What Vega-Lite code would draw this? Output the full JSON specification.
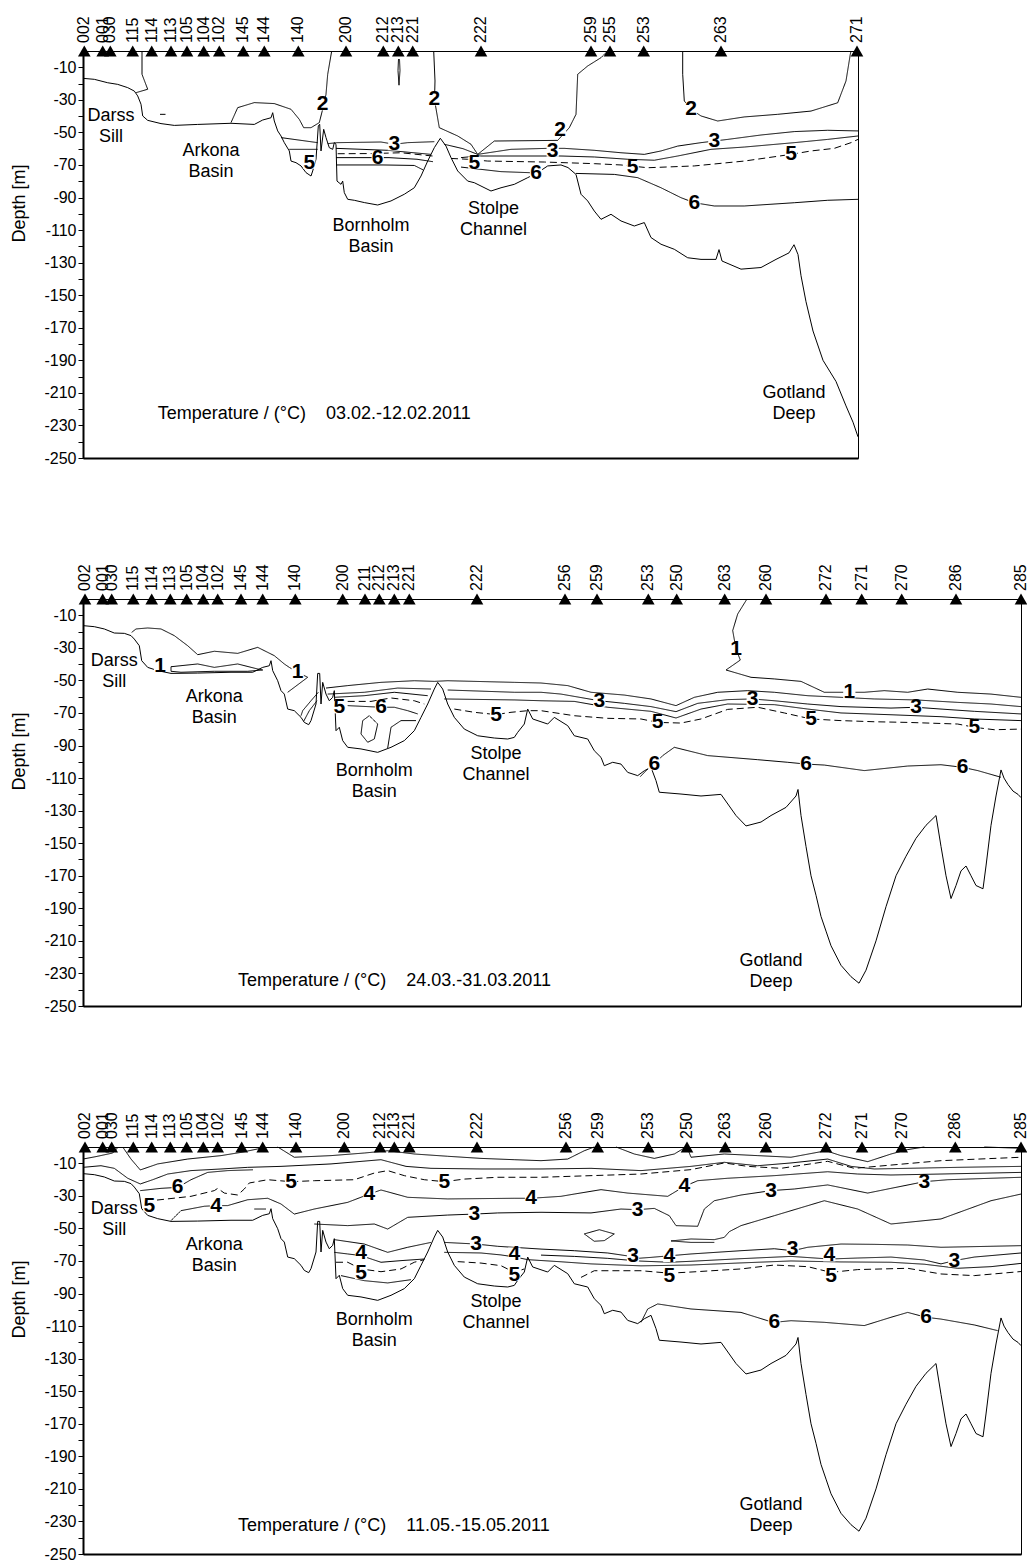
{
"$schema": "https://vega.github.io/schema/vega-lite/v6.json",
"background": "white",
"padding": {"left": 9, "top": 15, "right": 5, "bottom": 3},
"spacing": 141,
"bounds": "flush",
"config": {"font": "Liberation Sans", "view": {"stroke": "#000", "strokeWidth": 1}},
"datasets": {
"bathy": [
{"p":1,"x":0,"y":-16.8},{"p":1,"x":11.3,"y":-17.4},{"p":1,"x":24.7,"y":-19.5},{"p":1,"x":34.7,"y":-20.5},{"p":1,"x":44.7,"y":-22.5},{"p":1,"x":51.3,"y":-24.6},{"p":1,"x":54.7,"y":-27.6},{"p":1,"x":58,"y":-32.7},{"p":1,"x":59.7,"y":-39.9},{"p":1,"x":64.7,"y":-42.6},{"p":1,"x":78,"y":-44.6},{"p":1,"x":91.3,"y":-45.7},{"p":1,"x":114.7,"y":-45.1},{"p":1,"x":148,"y":-44.4},{"p":1,"x":171.3,"y":-45.1},{"p":1,"x":179.7,"y":-42.4},{"p":1,"x":188,"y":-41},{"p":1,"x":189.7,"y":-37.9},{"p":1,"x":191.3,"y":-43},{"p":1,"x":194.7,"y":-49.1},{"p":1,"x":198,"y":-52.2},{"p":1,"x":201.3,"y":-56.3},{"p":1,"x":206.3,"y":-61.4},{"p":1,"x":208,"y":-67.6},{"p":1,"x":213,"y":-68.6},{"p":1,"x":218,"y":-70.6},{"p":1,"x":223,"y":-74.7},{"p":1,"x":228,"y":-76.8},{"p":1,"x":229.7,"y":-73.7},{"p":1,"x":233,"y":-66.5},{"p":1,"x":235.3,"y":-46.1},{"p":1,"x":236.7,"y":-45},{"p":1,"x":238,"y":-61.4},{"p":1,"x":240.7,"y":-48.1},{"p":1,"x":243,"y":-53.2},{"p":1,"x":246.3,"y":-59.4},{"p":1,"x":249.7,"y":-60.4},{"p":1,"x":251.3,"y":-56.3},{"p":1,"x":253,"y":-57.3},{"p":1,"x":254,"y":-79.9},{"p":1,"x":258,"y":-81.9},{"p":1,"x":259.7,"y":-79.9},{"p":1,"x":261.3,"y":-87},{"p":1,"x":264.7,"y":-91.1},{"p":1,"x":271.3,"y":-91.7},{"p":1,"x":281.3,"y":-93.1},{"p":1,"x":294.7,"y":-94.6},{"p":1,"x":308,"y":-92.1},{"p":1,"x":321.3,"y":-88},{"p":1,"x":331.3,"y":-84},{"p":1,"x":338,"y":-76.8},{"p":1,"x":344.7,"y":-67.6},{"p":1,"x":351.3,"y":-59.4},{"p":1,"x":357.3,"y":-53.6},{"p":1,"x":363,"y":-58.4},{"p":1,"x":368,"y":-65.5},{"p":1,"x":374.7,"y":-73.7},{"p":1,"x":384.7,"y":-79.9},{"p":1,"x":391.3,"y":-80.9},{"p":1,"x":408,"y":-86},{"p":1,"x":418,"y":-84},{"p":1,"x":431.3,"y":-81.9},{"p":1,"x":444.7,"y":-77.8},{"p":1,"x":454.7,"y":-74.7},{"p":1,"x":464.7,"y":-70.6},{"p":1,"x":478,"y":-70},{"p":1,"x":485,"y":-71.6},{"p":1,"x":493,"y":-75.8},{"p":1,"x":498,"y":-88},{"p":1,"x":504.7,"y":-92.1},{"p":1,"x":511.3,"y":-98.3},{"p":1,"x":518,"y":-103.4},{"p":1,"x":528,"y":-100.3},{"p":1,"x":538,"y":-104.4},{"p":1,"x":551.3,"y":-107.5},{"p":1,"x":561.3,"y":-105.4},{"p":1,"x":568,"y":-114.6},{"p":1,"x":578,"y":-118.7},{"p":1,"x":591.3,"y":-121.8},{"p":1,"x":604.7,"y":-127},{"p":1,"x":618,"y":-128},{"p":1,"x":633,"y":-128},{"p":1,"x":636,"y":-122},{"p":1,"x":639,"y":-129},{"p":1,"x":658,"y":-134},{"p":1,"x":678,"y":-133},{"p":1,"x":693,"y":-128},{"p":1,"x":706,"y":-124},{"p":1,"x":711,"y":-119},{"p":1,"x":715,"y":-125},{"p":1,"x":718,"y":-138},{"p":1,"x":723,"y":-154},{"p":1,"x":730,"y":-172},{"p":1,"x":740,"y":-190},{"p":1,"x":753,"y":-203},{"p":1,"x":763,"y":-218},{"p":1,"x":770,"y":-228},{"p":1,"x":775,"y":-237},
{"p":2,"x":0.7,"y":-16.4},{"p":2,"x":11.3,"y":-17},{"p":2,"x":21.3,"y":-18.4},{"p":2,"x":31.3,"y":-20.9},{"p":2,"x":41.3,"y":-21.1},{"p":2,"x":48,"y":-22.5},{"p":2,"x":51.3,"y":-24.6},{"p":2,"x":56.3,"y":-28.7},{"p":2,"x":58.7,"y":-37.9},{"p":2,"x":64.7,"y":-42},{"p":2,"x":74.7,"y":-44},{"p":2,"x":88,"y":-45.7},{"p":2,"x":114.7,"y":-45.5},{"p":2,"x":148,"y":-45},{"p":2,"x":169.7,"y":-45},{"p":2,"x":179.7,"y":-42},{"p":2,"x":186.3,"y":-41},{"p":2,"x":188,"y":-37.9},{"p":2,"x":189.7,"y":-44},{"p":2,"x":194.7,"y":-50.2},{"p":2,"x":198,"y":-56.3},{"p":2,"x":201.3,"y":-58.4},{"p":2,"x":204.7,"y":-67.6},{"p":2,"x":211.3,"y":-68.6},{"p":2,"x":218,"y":-72.7},{"p":2,"x":221.3,"y":-75.8},{"p":2,"x":225.7,"y":-77.2},{"p":2,"x":228,"y":-74.7},{"p":2,"x":233,"y":-64.5},{"p":2,"x":234.7,"y":-45.7},{"p":2,"x":236.7,"y":-45.7},{"p":2,"x":238,"y":-64.5},{"p":2,"x":239.7,"y":-51.2},{"p":2,"x":243,"y":-58.4},{"p":2,"x":246.3,"y":-62.5},{"p":2,"x":249.7,"y":-60.4},{"p":2,"x":251.3,"y":-56.3},{"p":2,"x":253,"y":-80.9},{"p":2,"x":256.3,"y":-78.8},{"p":2,"x":259.7,"y":-87},{"p":2,"x":264.7,"y":-91.1},{"p":2,"x":278,"y":-92.1},{"p":2,"x":294.7,"y":-94.2},{"p":2,"x":308,"y":-91.1},{"p":2,"x":321.3,"y":-87},{"p":2,"x":331.3,"y":-80.9},{"p":2,"x":338,"y":-72.7},{"p":2,"x":344.7,"y":-64.5},{"p":2,"x":351.3,"y":-55.3},{"p":2,"x":354.7,"y":-51.2},{"p":2,"x":359.7,"y":-55.3},{"p":2,"x":364.7,"y":-64.5},{"p":2,"x":371.3,"y":-72.7},{"p":2,"x":381.3,"y":-79.9},{"p":2,"x":394.7,"y":-84},{"p":2,"x":411.3,"y":-85.4},{"p":2,"x":424.7,"y":-86},{"p":2,"x":431.3,"y":-85},{"p":2,"x":434.7,"y":-81.9},{"p":2,"x":441.3,"y":-76.8},{"p":2,"x":444.7,"y":-67.6},{"p":2,"x":449.7,"y":-73.7},{"p":2,"x":464.7,"y":-76.8},{"p":2,"x":471.3,"y":-72.7},{"p":2,"x":484.7,"y":-77.8},{"p":2,"x":491.3,"y":-84},{"p":2,"x":504.7,"y":-86},{"p":2,"x":511.3,"y":-93.2},{"p":2,"x":518,"y":-97.3},{"p":2,"x":521.3,"y":-102.4},{"p":2,"x":529.7,"y":-100.3},{"p":2,"x":538,"y":-101.4},{"p":2,"x":544.7,"y":-106.5},{"p":2,"x":554.7,"y":-108.5},{"p":2,"x":561.3,"y":-105.5},{"p":2,"x":568,"y":-103.4},{"p":2,"x":573,"y":-111.6},{"p":2,"x":576.3,"y":-118.7},{"p":2,"x":598,"y":-119.8},{"p":2,"x":618,"y":-121},{"p":2,"x":638,"y":-120},{"p":2,"x":653,"y":-133},{"p":2,"x":663,"y":-139.4},{"p":2,"x":678,"y":-137},{"p":2,"x":688,"y":-133},{"p":2,"x":703,"y":-128},{"p":2,"x":713,"y":-121},{"p":2,"x":715,"y":-117},{"p":2,"x":718,"y":-133},{"p":2,"x":723,"y":-152},{"p":2,"x":728,"y":-170},{"p":2,"x":733,"y":-182},{"p":2,"x":738,"y":-195},{"p":2,"x":743,"y":-204},{"p":2,"x":748,"y":-213},{"p":2,"x":758,"y":-225},{"p":2,"x":768,"y":-232},{"p":2,"x":776,"y":-236},{"p":2,"x":783,"y":-228},{"p":2,"x":793,"y":-210},{"p":2,"x":803,"y":-189},{"p":2,"x":813,"y":-170},{"p":2,"x":823,"y":-158},{"p":2,"x":833,"y":-147},{"p":2,"x":843,"y":-139},{"p":2,"x":853,"y":-133},{"p":2,"x":858,"y":-152},{"p":2,"x":863,"y":-170},{"p":2,"x":868,"y":-184},{"p":2,"x":873,"y":-176},{"p":2,"x":878,"y":-167},{"p":2,"x":883,"y":-164},{"p":2,"x":888,"y":-170},{"p":2,"x":893,"y":-176},{"p":2,"x":900,"y":-178},{"p":2,"x":903,"y":-164},{"p":2,"x":908,"y":-139},{"p":2,"x":913,"y":-121},{"p":2,"x":918,"y":-105},{"p":2,"x":921,"y":-110},{"p":2,"x":925,"y":-114},{"p":2,"x":930,"y":-118},{"p":2,"x":935,"y":-120},{"p":2,"x":938,"y":-122}
],
"iso": [
{"p":1,"c":"a","t":2,"x":59,"y":0},{"p":1,"c":"a","t":2,"x":59,"y":-14.3},{"p":1,"c":"a","t":2,"x":64.7,"y":-23.5},{"p":1,"c":"a","t":2,"x":53,"y":-25.6},
{"p":1,"c":"b","t":2,"x":248.7,"y":0},{"p":1,"c":"b","t":2,"x":244.7,"y":-14.3},{"p":1,"c":"b","t":2,"x":243,"y":-26.6},{"p":1,"c":"b","t":2,"x":240,"y":-35},{"p":1,"c":"b","t":2,"x":236.3,"y":-44},{"p":1,"c":"b","t":2,"x":228,"y":-47.1},{"p":1,"c":"b","t":2,"x":220.7,"y":-47.1},{"p":1,"c":"b","t":2,"x":216.3,"y":-42},{"p":1,"c":"b","t":2,"x":208,"y":-35.8},{"p":1,"c":"b","t":2,"x":191.3,"y":-32.3},{"p":1,"c":"b","t":2,"x":171.3,"y":-31.7},{"p":1,"c":"b","t":2,"x":154.7,"y":-34.8},{"p":1,"c":"b","t":2,"x":148,"y":-44},
{"p":1,"c":"c","t":2,"x":315.5,"y":-5},{"p":1,"c":"c","t":2,"x":315,"y":-12},{"p":1,"c":"c","t":2,"x":316,"y":-21},{"p":1,"c":"c","t":2,"x":317,"y":-12},{"p":1,"c":"c","t":2,"x":316.5,"y":-5},
{"p":1,"c":"d","t":2,"x":350.7,"y":0},{"p":1,"c":"d","t":2,"x":352,"y":-18.4},{"p":1,"c":"d","t":2,"x":351.5,"y":-30},{"p":1,"c":"d","t":2,"x":356.3,"y":-47.1},{"p":1,"c":"d","t":2,"x":374.7,"y":-52.2},{"p":1,"c":"d","t":2,"x":388,"y":-57.3},{"p":1,"c":"d","t":2,"x":394.7,"y":-63.5},{"p":1,"c":"d","t":2,"x":411.3,"y":-55.3},{"p":1,"c":"d","t":2,"x":474.7,"y":-54.9},{"p":1,"c":"d","t":2,"x":486.3,"y":-47.1},{"p":1,"c":"d","t":2,"x":493,"y":-38.9},{"p":1,"c":"d","t":2,"x":494.7,"y":-14.3},{"p":1,"c":"d","t":2,"x":504.7,"y":-9.2},{"p":1,"c":"d","t":2,"x":518,"y":-4.1},{"p":1,"c":"d","t":2,"x":524.7,"y":0},
{"p":1,"c":"e","t":2,"x":599.7,"y":0},{"p":1,"c":"e","t":2,"x":599.7,"y":-14.3},{"p":1,"c":"e","t":2,"x":601.3,"y":-30.7},{"p":1,"c":"e","t":2,"x":608,"y":-35.8},{"p":1,"c":"e","t":2,"x":618,"y":-39.9},{"p":1,"c":"e","t":2,"x":634.7,"y":-43},{"p":1,"c":"e","t":2,"x":661.3,"y":-40.5},{"p":1,"c":"e","t":2,"x":694.7,"y":-38.9},{"p":1,"c":"e","t":2,"x":728,"y":-36.9},{"p":1,"c":"e","t":2,"x":754.7,"y":-31.8},{"p":1,"c":"e","t":2,"x":763,"y":-18.4},{"p":1,"c":"e","t":2,"x":767.3,"y":-2},{"p":1,"c":"e","t":2,"x":768,"y":0},
{"p":1,"c":"f","t":1,"x":77,"y":-38.9},{"p":1,"c":"f","t":1,"x":82.5,"y":-38.9},
{"p":1,"c":"g","t":3,"x":198,"y":-53.2},{"p":1,"c":"g","t":3,"x":234.7,"y":-56.3},
{"p":1,"c":"r","t":4,"x":206.3,"y":-60.4},{"p":1,"c":"r","t":4,"x":234.7,"y":-60.4},
{"p":1,"c":"h","t":3,"x":244.7,"y":-56.9},{"p":1,"c":"h","t":3,"x":254.7,"y":-56.3},{"p":1,"c":"h","t":3,"x":298,"y":-55.9},{"p":1,"c":"h","t":3,"x":311.3,"y":-57.3},{"p":1,"c":"h","t":3,"x":324.7,"y":-56.3},{"p":1,"c":"h","t":3,"x":351.3,"y":-55.7},
{"p":1,"c":"i","t":3,"x":361.3,"y":-57.3},{"p":1,"c":"i","t":3,"x":380,"y":-60},{"p":1,"c":"i","t":3,"x":394.7,"y":-63.5},{"p":1,"c":"i","t":3,"x":428,"y":-60.4},{"p":1,"c":"i","t":3,"x":464.7,"y":-59.8},{"p":1,"c":"i","t":3,"x":481.3,"y":-59.8},{"p":1,"c":"i","t":3,"x":511.3,"y":-61},{"p":1,"c":"i","t":3,"x":538,"y":-62.5},{"p":1,"c":"i","t":3,"x":561.3,"y":-63.5},{"p":1,"c":"i","t":3,"x":578,"y":-61.4},{"p":1,"c":"i","t":3,"x":594.7,"y":-58.4},{"p":1,"c":"i","t":3,"x":618,"y":-56.3},{"p":1,"c":"i","t":3,"x":644.7,"y":-54.3},{"p":1,"c":"i","t":3,"x":678,"y":-51.6},{"p":1,"c":"i","t":3,"x":711.3,"y":-49.5},{"p":1,"c":"i","t":3,"x":744.7,"y":-48.7},{"p":1,"c":"i","t":3,"x":775,"y":-49.1},
{"p":1,"c":"j","t":4,"x":253,"y":-59.8},{"p":1,"c":"j","t":4,"x":304.7,"y":-61},{"p":1,"c":"j","t":4,"x":348,"y":-63.5},
{"p":1,"c":"k","t":4,"x":378,"y":-65.5},{"p":1,"c":"k","t":4,"x":394.7,"y":-64.5},{"p":1,"c":"k","t":4,"x":478,"y":-64.5},{"p":1,"c":"k","t":4,"x":511.3,"y":-65.1},{"p":1,"c":"k","t":4,"x":544.7,"y":-66.5},{"p":1,"c":"k","t":4,"x":571.3,"y":-67.1},{"p":1,"c":"k","t":4,"x":594.7,"y":-64.5},{"p":1,"c":"k","t":4,"x":628,"y":-60.4},{"p":1,"c":"k","t":4,"x":661.3,"y":-59},{"p":1,"c":"k","t":4,"x":711.3,"y":-56.3},{"p":1,"c":"k","t":4,"x":744.7,"y":-54.3},{"p":1,"c":"k","t":4,"x":775,"y":-52.2},
{"p":1,"c":"l","t":5,"x":254.7,"y":-63.1},{"p":1,"c":"l","t":5,"x":288,"y":-63},{"p":1,"c":"l","t":5,"x":318,"y":-62.5},{"p":1,"c":"l","t":5,"x":349.7,"y":-64.5},
{"p":1,"c":"m","t":5,"x":368,"y":-66},{"p":1,"c":"m","t":5,"x":384.7,"y":-66.5},{"p":1,"c":"m","t":5,"x":404.7,"y":-67.6},{"p":1,"c":"m","t":5,"x":461.3,"y":-68.2},{"p":1,"c":"m","t":5,"x":511.3,"y":-69.2},{"p":1,"c":"m","t":5,"x":538,"y":-70},{"p":1,"c":"m","t":5,"x":564.7,"y":-71.7},{"p":1,"c":"m","t":5,"x":611.3,"y":-70.6},{"p":1,"c":"m","t":5,"x":661.3,"y":-67.6},{"p":1,"c":"m","t":5,"x":708,"y":-63.5},{"p":1,"c":"m","t":5,"x":728,"y":-61.4},{"p":1,"c":"m","t":5,"x":751.3,"y":-59.8},{"p":1,"c":"m","t":5,"x":768,"y":-56.3},{"p":1,"c":"m","t":5,"x":775,"y":-54.3},
{"p":1,"c":"n","t":6,"x":253,"y":-65.5},{"p":1,"c":"n","t":6,"x":285,"y":-65.5},{"p":1,"c":"n","t":6,"x":306,"y":-65.5},{"p":1,"c":"n","t":6,"x":334,"y":-66.5},{"p":1,"c":"n","t":6,"x":350,"y":-68},
{"p":1,"c":"o","t":6,"x":253,"y":-70},{"p":1,"c":"o","t":6,"x":300,"y":-70},{"p":1,"c":"o","t":6,"x":331.3,"y":-70.3},{"p":1,"c":"o","t":6,"x":340,"y":-73},
{"p":1,"c":"p","t":6,"x":378,"y":-71.3},{"p":1,"c":"p","t":6,"x":398,"y":-72.7},{"p":1,"c":"p","t":6,"x":418,"y":-74.1},{"p":1,"c":"p","t":6,"x":444.7,"y":-74.7},{"p":1,"c":"p","t":6,"x":455,"y":-75},
{"p":1,"c":"q","t":6,"x":493,"y":-75.2},{"p":1,"c":"q","t":6,"x":531.3,"y":-75.8},{"p":1,"c":"q","t":6,"x":554.7,"y":-77.8},{"p":1,"c":"q","t":6,"x":578,"y":-84},{"p":1,"c":"q","t":6,"x":598,"y":-90.1},{"p":1,"c":"q","t":6,"x":611.3,"y":-93.2},{"p":1,"c":"q","t":6,"x":631.3,"y":-95.2},{"p":1,"c":"q","t":6,"x":661.3,"y":-95.2},{"p":1,"c":"q","t":6,"x":711.3,"y":-93.2},{"p":1,"c":"q","t":6,"x":744.7,"y":-91.7},{"p":1,"c":"q","t":6,"x":775,"y":-91.1},

{"p":2,"c":"a","t":1,"x":48.7,"y":-20.5},{"p":2,"c":"a","t":1,"x":53,"y":-18.4},{"p":2,"c":"a","t":1,"x":64.7,"y":-17.8},{"p":2,"c":"a","t":1,"x":78,"y":-18.4},{"p":2,"c":"a","t":1,"x":91.3,"y":-22.5},{"p":2,"c":"a","t":1,"x":104.7,"y":-28.7},{"p":2,"c":"a","t":1,"x":114.7,"y":-34.2},{"p":2,"c":"a","t":1,"x":131.3,"y":-32.1},{"p":2,"c":"a","t":1,"x":154.7,"y":-33.4},{"p":2,"c":"a","t":1,"x":174.7,"y":-29.7},{"p":2,"c":"a","t":1,"x":191.3,"y":-34.8},{"p":2,"c":"a","t":1,"x":201.3,"y":-39.9},{"p":2,"c":"a","t":1,"x":206.3,"y":-42},{"p":2,"c":"a","t":1,"x":214.7,"y":-45},{"p":2,"c":"a","t":1,"x":224.7,"y":-48.1},{"p":2,"c":"a","t":1,"x":204.7,"y":-57.3},
{"p":2,"c":"b","t":1,"x":88,"y":-41.6},{"p":2,"c":"b","t":1,"x":114.7,"y":-39.9},{"p":2,"c":"b","t":1,"x":131.3,"y":-42},{"p":2,"c":"b","t":1,"x":154.7,"y":-39.9},{"p":2,"c":"b","t":1,"x":174.7,"y":-43},{"p":2,"c":"b","t":1,"x":179.7,"y":-43.6},{"p":2,"c":"b","t":1,"x":164.7,"y":-44.4},{"p":2,"c":"b","t":1,"x":131.3,"y":-44.4},{"p":2,"c":"b","t":1,"x":98,"y":-45},{"p":2,"c":"b","t":1,"x":88,"y":-44.4},{"p":2,"c":"b","t":1,"x":88,"y":-41.6},
{"p":2,"c":"c","t":2,"x":235.3,"y":-57.3},{"p":2,"c":"c","t":2,"x":228,"y":-62.5},{"p":2,"c":"c","t":2,"x":219.7,"y":-68.6},{"p":2,"c":"c","t":2,"x":218,"y":-71.7},
{"p":2,"c":"d","t":2,"x":234,"y":-62.5},{"p":2,"c":"d","t":2,"x":226.3,"y":-68.6},{"p":2,"c":"d","t":2,"x":220.7,"y":-75.1},
{"p":2,"c":"e","t":2,"x":243,"y":-54.7},{"p":2,"c":"e","t":2,"x":264.7,"y":-53.2},{"p":2,"c":"e","t":2,"x":298,"y":-51.2},{"p":2,"c":"e","t":2,"x":331.3,"y":-50.2},{"p":2,"c":"e","t":2,"x":351.3,"y":-50.6},{"p":2,"c":"e","t":2,"x":364.7,"y":-50.2},{"p":2,"c":"e","t":2,"x":431.3,"y":-51.2},{"p":2,"c":"e","t":2,"x":458,"y":-51.6},{"p":2,"c":"e","t":2,"x":484.7,"y":-53.2},{"p":2,"c":"e","t":2,"x":508,"y":-57.3},{"p":2,"c":"e","t":2,"x":541.3,"y":-59},{"p":2,"c":"e","t":2,"x":568,"y":-61.4},{"p":2,"c":"e","t":2,"x":593,"y":-65.5},{"p":2,"c":"e","t":2,"x":611.3,"y":-60.4},{"p":2,"c":"e","t":2,"x":634.7,"y":-57.3},{"p":2,"c":"e","t":2,"x":664.7,"y":-56.3},{"p":2,"c":"e","t":2,"x":691.3,"y":-57.3},{"p":2,"c":"e","t":2,"x":724.7,"y":-59.4},{"p":2,"c":"e","t":2,"x":758,"y":-60.4},{"p":2,"c":"e","t":2,"x":791.3,"y":-61.4},{"p":2,"c":"e","t":2,"x":833,"y":-62},{"p":2,"c":"e","t":2,"x":874.7,"y":-63.5},{"p":2,"c":"e","t":2,"x":908,"y":-64.5},{"p":2,"c":"e","t":2,"x":938,"y":-66.1},
{"p":2,"c":"f","t":3,"x":244.7,"y":-58.4},{"p":2,"c":"f","t":3,"x":281.3,"y":-57.3},{"p":2,"c":"f","t":3,"x":314.7,"y":-54.7},{"p":2,"c":"f","t":3,"x":348,"y":-55.3},
{"p":2,"c":"g","t":3,"x":364.7,"y":-55.9},{"p":2,"c":"g","t":3,"x":431.3,"y":-57.3},{"p":2,"c":"g","t":3,"x":458,"y":-57.3},{"p":2,"c":"g","t":3,"x":478,"y":-58.4},{"p":2,"c":"g","t":3,"x":516.3,"y":-62.5},{"p":2,"c":"g","t":3,"x":541.3,"y":-64.1},{"p":2,"c":"g","t":3,"x":568,"y":-66.1},{"p":2,"c":"g","t":3,"x":593,"y":-69.2},{"p":2,"c":"g","t":3,"x":614.7,"y":-64.1},{"p":2,"c":"g","t":3,"x":644.7,"y":-61.8},{"p":2,"c":"g","t":3,"x":669.7,"y":-61.4},{"p":2,"c":"g","t":3,"x":691.3,"y":-62.5},{"p":2,"c":"g","t":3,"x":724.7,"y":-64.5},{"p":2,"c":"g","t":3,"x":758,"y":-66.1},{"p":2,"c":"g","t":3,"x":808,"y":-67},{"p":2,"c":"g","t":3,"x":833,"y":-66.5},{"p":2,"c":"g","t":3,"x":858,"y":-67.6},{"p":2,"c":"g","t":3,"x":891.3,"y":-69},{"p":2,"c":"g","t":3,"x":938,"y":-70.6},
{"p":2,"c":"h","t":4,"x":251.3,"y":-60.4},{"p":2,"c":"h","t":4,"x":281.3,"y":-59.4},{"p":2,"c":"h","t":4,"x":311.3,"y":-57.3},{"p":2,"c":"h","t":4,"x":344.7,"y":-59.4},
{"p":2,"c":"i","t":4,"x":361.3,"y":-61.4},{"p":2,"c":"i","t":4,"x":431.3,"y":-62},{"p":2,"c":"i","t":4,"x":458,"y":-62.5},{"p":2,"c":"i","t":4,"x":491.3,"y":-62.9},{"p":2,"c":"i","t":4,"x":524.7,"y":-66.5},{"p":2,"c":"i","t":4,"x":568,"y":-69},{"p":2,"c":"i","t":4,"x":593,"y":-73.1},{"p":2,"c":"i","t":4,"x":618,"y":-67.6},{"p":2,"c":"i","t":4,"x":644.7,"y":-64.5},{"p":2,"c":"i","t":4,"x":691.3,"y":-64.9},{"p":2,"c":"i","t":4,"x":724.7,"y":-67.6},{"p":2,"c":"i","t":4,"x":758,"y":-70},{"p":2,"c":"i","t":4,"x":808,"y":-71.1},{"p":2,"c":"i","t":4,"x":858,"y":-72.3},{"p":2,"c":"i","t":4,"x":891.3,"y":-73.7},{"p":2,"c":"i","t":4,"x":938,"y":-74.7},
{"p":2,"c":"j","t":5,"x":264.7,"y":-62.9},{"p":2,"c":"j","t":5,"x":288,"y":-62.9},{"p":2,"c":"j","t":5,"x":308,"y":-60.8},{"p":2,"c":"j","t":5,"x":331.3,"y":-62.5},{"p":2,"c":"j","t":5,"x":341.3,"y":-64.5},
{"p":2,"c":"k","t":5,"x":371.3,"y":-67.6},{"p":2,"c":"k","t":5,"x":391.3,"y":-69.6},{"p":2,"c":"k","t":5,"x":413,"y":-71},{"p":2,"c":"k","t":5,"x":428,"y":-69.6},{"p":2,"c":"k","t":5,"x":444.7,"y":-68.6},{"p":2,"c":"k","t":5,"x":458,"y":-68.6},{"p":2,"c":"k","t":5,"x":491.3,"y":-71.7},{"p":2,"c":"k","t":5,"x":524.7,"y":-73.3},{"p":2,"c":"k","t":5,"x":558,"y":-73.7},{"p":2,"c":"k","t":5,"x":574.7,"y":-75.8},{"p":2,"c":"k","t":5,"x":598,"y":-76.2},{"p":2,"c":"k","t":5,"x":618,"y":-73.7},{"p":2,"c":"k","t":5,"x":644.7,"y":-67.8},{"p":2,"c":"k","t":5,"x":674.7,"y":-66.5},{"p":2,"c":"k","t":5,"x":701.3,"y":-70},{"p":2,"c":"k","t":5,"x":728,"y":-73.7},{"p":2,"c":"k","t":5,"x":758,"y":-74.7},{"p":2,"c":"k","t":5,"x":791.3,"y":-75.4},{"p":2,"c":"k","t":5,"x":824.7,"y":-75.8},{"p":2,"c":"k","t":5,"x":874.7,"y":-76.8},{"p":2,"c":"k","t":5,"x":891.3,"y":-78.8},{"p":2,"c":"k","t":5,"x":911.3,"y":-80.3},{"p":2,"c":"k","t":5,"x":938,"y":-79.9},
{"p":2,"c":"l","t":6,"x":264.7,"y":-65.5},{"p":2,"c":"l","t":6,"x":284.7,"y":-66.1},{"p":2,"c":"l","t":6,"x":298,"y":-66.5},{"p":2,"c":"l","t":6,"x":311.3,"y":-66.5},{"p":2,"c":"l","t":6,"x":324.7,"y":-68.6},{"p":2,"c":"l","t":6,"x":334.7,"y":-70.6},
{"p":2,"c":"m","t":6,"x":286.3,"y":-71.7},{"p":2,"c":"m","t":6,"x":294.7,"y":-76.8},{"p":2,"c":"m","t":6,"x":291.3,"y":-86},{"p":2,"c":"m","t":6,"x":284.7,"y":-88},{"p":2,"c":"m","t":6,"x":278,"y":-82.9},{"p":2,"c":"m","t":6,"x":279.7,"y":-74.7},{"p":2,"c":"m","t":6,"x":286.3,"y":-71.7},
{"p":2,"c":"n","t":6,"x":304.7,"y":-91.5},{"p":2,"c":"n","t":6,"x":308,"y":-78.8},{"p":2,"c":"n","t":6,"x":318,"y":-74.7},{"p":2,"c":"n","t":6,"x":333,"y":-74.7},
{"p":2,"c":"o","t":6,"x":557.3,"y":-109.1},{"p":2,"c":"o","t":6,"x":564.7,"y":-104.4},{"p":2,"c":"o","t":6,"x":571.3,"y":-101.4},{"p":2,"c":"o","t":6,"x":579.7,"y":-96.2},{"p":2,"c":"o","t":6,"x":591.3,"y":-91.1},{"p":2,"c":"o","t":6,"x":624.7,"y":-96.2},{"p":2,"c":"o","t":6,"x":674.7,"y":-98.7},{"p":2,"c":"o","t":6,"x":704.7,"y":-100.3},{"p":2,"c":"o","t":6,"x":723,"y":-101.4},{"p":2,"c":"o","t":6,"x":741.3,"y":-102},{"p":2,"c":"o","t":6,"x":781.3,"y":-105.4},{"p":2,"c":"o","t":6,"x":824.7,"y":-102.6},{"p":2,"c":"o","t":6,"x":858,"y":-101.8},{"p":2,"c":"o","t":6,"x":879.7,"y":-103.4},{"p":2,"c":"o","t":6,"x":894.7,"y":-105.4},{"p":2,"c":"o","t":6,"x":918,"y":-109.5},
{"p":2,"c":"q","t":1,"x":664,"y":0},{"p":2,"c":"q","t":1,"x":654.7,"y":-9.2},{"p":2,"c":"q","t":1,"x":649.7,"y":-19.4},{"p":2,"c":"q","t":1,"x":653,"y":-30.7},{"p":2,"c":"q","t":1,"x":657.3,"y":-37.5},{"p":2,"c":"q","t":1,"x":643,"y":-43.6},{"p":2,"c":"q","t":1,"x":668,"y":-48.1},{"p":2,"c":"q","t":1,"x":691.3,"y":-49.1},{"p":2,"c":"q","t":1,"x":718,"y":-50.6},{"p":2,"c":"q","t":1,"x":741.3,"y":-57.3},{"p":2,"c":"q","t":1,"x":766.3,"y":-57.3},{"p":2,"c":"q","t":1,"x":781.3,"y":-57.3},{"p":2,"c":"q","t":1,"x":801.3,"y":-56.3},{"p":2,"c":"q","t":1,"x":824.7,"y":-57.3},{"p":2,"c":"q","t":1,"x":844.7,"y":-55.3},{"p":2,"c":"q","t":1,"x":874.7,"y":-57.3},{"p":2,"c":"q","t":1,"x":908,"y":-58.4},{"p":2,"c":"q","t":1,"x":938,"y":-60.4},

{"p":3,"c":"a","t":8,"x":0,"y":-7.4},{"p":3,"c":"a","t":8,"x":13,"y":-5.9},{"p":3,"c":"a","t":8,"x":29.7,"y":-3.7},{"p":3,"c":"a","t":8,"x":35.3,"y":0},
{"p":3,"c":"b","t":8,"x":39.7,"y":0},{"p":3,"c":"b","t":8,"x":48,"y":-7.4},{"p":3,"c":"b","t":8,"x":57.3,"y":-14.1},{"p":3,"c":"b","t":8,"x":74.7,"y":-10.4},{"p":3,"c":"b","t":8,"x":104.7,"y":-7.4},{"p":3,"c":"b","t":8,"x":138,"y":-5.3},{"p":3,"c":"b","t":8,"x":158,"y":-3.3},{"p":3,"c":"b","t":8,"x":174.7,"y":-1.2},{"p":3,"c":"b","t":8,"x":180.7,"y":0},
{"p":3,"c":"c","t":8,"x":194.7,"y":0},{"p":3,"c":"c","t":8,"x":211.3,"y":-6.3},{"p":3,"c":"c","t":8,"x":248,"y":-5.3},{"p":3,"c":"c","t":8,"x":281.3,"y":-3.7},{"p":3,"c":"c","t":8,"x":304.7,"y":-2.3},{"p":3,"c":"c","t":8,"x":331.3,"y":-4.3},{"p":3,"c":"c","t":8,"x":364.7,"y":-5.7},{"p":3,"c":"c","t":8,"x":398,"y":-7},{"p":3,"c":"c","t":8,"x":431.3,"y":-7.8},{"p":3,"c":"c","t":8,"x":458,"y":-8.4},{"p":3,"c":"c","t":8,"x":484.7,"y":-7.4},{"p":3,"c":"c","t":8,"x":501.3,"y":-2.3},{"p":3,"c":"c","t":8,"x":511.3,"y":0},
{"p":3,"c":"d","t":8,"x":533,"y":0},{"p":3,"c":"d","t":8,"x":551.3,"y":-4.3},{"p":3,"c":"d","t":8,"x":571.3,"y":-7},{"p":3,"c":"d","t":8,"x":591.3,"y":-4.3},{"p":3,"c":"d","t":8,"x":603,"y":0},
{"p":3,"c":"e","t":8,"x":604,"y":0},{"p":3,"c":"e","t":8,"x":608,"y":-6.3},{"p":3,"c":"e","t":8,"x":641.3,"y":-4.3},{"p":3,"c":"e","t":8,"x":674.7,"y":-5.3},{"p":3,"c":"e","t":8,"x":708,"y":-6.3},{"p":3,"c":"e","t":8,"x":743,"y":-2.3},{"p":3,"c":"e","t":8,"x":758,"y":-5.3},{"p":3,"c":"e","t":8,"x":784.7,"y":-9},{"p":3,"c":"e","t":8,"x":808,"y":-4.3},{"p":3,"c":"e","t":8,"x":824.7,"y":-1.6},{"p":3,"c":"e","t":8,"x":841.3,"y":0},
{"p":3,"c":"f","t":8,"x":901.3,"y":0},{"p":3,"c":"f","t":8,"x":938,"y":-0.8},
{"p":3,"c":"g","t":7,"x":0,"y":-12.5},{"p":3,"c":"g","t":7,"x":18,"y":-11.5},{"p":3,"c":"g","t":7,"x":31.3,"y":-13.1},{"p":3,"c":"g","t":7,"x":44.7,"y":-19.2},{"p":3,"c":"g","t":7,"x":57.3,"y":-22.7},{"p":3,"c":"g","t":7,"x":69.7,"y":-20.1},{"p":3,"c":"g","t":7,"x":84.7,"y":-16.6},{"p":3,"c":"g","t":7,"x":108,"y":-14.5},{"p":3,"c":"g","t":7,"x":138,"y":-13.5},{"p":3,"c":"g","t":7,"x":164.7,"y":-12.5},{"p":3,"c":"g","t":7,"x":198,"y":-11.9},{"p":3,"c":"g","t":7,"x":248,"y":-10.4},{"p":3,"c":"g","t":7,"x":298,"y":-7.8},{"p":3,"c":"g","t":7,"x":323,"y":-11.9},{"p":3,"c":"g","t":7,"x":348,"y":-13.1},{"p":3,"c":"g","t":7,"x":398,"y":-13.5},{"p":3,"c":"g","t":7,"x":458,"y":-13.5},{"p":3,"c":"g","t":7,"x":508,"y":-13.1},{"p":3,"c":"g","t":7,"x":558,"y":-14.5},{"p":3,"c":"g","t":7,"x":608,"y":-11.9},{"p":3,"c":"g","t":7,"x":641.3,"y":-9.4},{"p":3,"c":"g","t":7,"x":674.7,"y":-11.5},{"p":3,"c":"g","t":7,"x":708,"y":-9.8},{"p":3,"c":"g","t":7,"x":744.7,"y":-7.4},{"p":3,"c":"g","t":7,"x":768,"y":-11.9},{"p":3,"c":"g","t":7,"x":791.3,"y":-13.5},{"p":3,"c":"g","t":7,"x":824.7,"y":-13.1},{"p":3,"c":"g","t":7,"x":874.7,"y":-12.5},{"p":3,"c":"g","t":7,"x":938,"y":-11.9},
{"p":3,"c":"h","t":6,"x":57.3,"y":-26.8},{"p":3,"c":"h","t":6,"x":78,"y":-25.4},{"p":3,"c":"h","t":6,"x":94.7,"y":-24.8},{"p":3,"c":"h","t":6,"x":108,"y":-20.1},{"p":3,"c":"h","t":6,"x":124.7,"y":-15.6},{"p":3,"c":"h","t":6,"x":144.7,"y":-14.5},{"p":3,"c":"h","t":6,"x":170,"y":-14},
{"p":3,"c":"i","t":5,"x":74,"y":-32.6},{"p":3,"c":"i","t":5,"x":108,"y":-30.3},{"p":3,"c":"i","t":5,"x":131.3,"y":-26.8},{"p":3,"c":"i","t":5,"x":134.7,"y":-25.4},{"p":3,"c":"i","t":5,"x":141.3,"y":-28.3},{"p":3,"c":"i","t":5,"x":154.7,"y":-29.5},{"p":3,"c":"i","t":5,"x":161.3,"y":-25.8},{"p":3,"c":"i","t":5,"x":166.3,"y":-22.1},{"p":3,"c":"i","t":5,"x":184.7,"y":-20.1},{"p":3,"c":"i","t":5,"x":208,"y":-21.3},{"p":3,"c":"i","t":5,"x":231.3,"y":-20.7},{"p":3,"c":"i","t":5,"x":271.3,"y":-20.1},{"p":3,"c":"i","t":5,"x":291.3,"y":-16},{"p":3,"c":"i","t":5,"x":304.7,"y":-14.5},{"p":3,"c":"i","t":5,"x":321.3,"y":-17.6},{"p":3,"c":"i","t":5,"x":341.3,"y":-20.1},{"p":3,"c":"i","t":5,"x":361.3,"y":-21.3},{"p":3,"c":"i","t":5,"x":381.3,"y":-19.7},{"p":3,"c":"i","t":5,"x":414.7,"y":-18.6},{"p":3,"c":"i","t":5,"x":458,"y":-18.6},{"p":3,"c":"i","t":5,"x":508,"y":-17.6},{"p":3,"c":"i","t":5,"x":558,"y":-16.6},{"p":3,"c":"i","t":5,"x":608,"y":-13.9},{"p":3,"c":"i","t":5,"x":641.3,"y":-9.8},{"p":3,"c":"i","t":5,"x":664.7,"y":-11.9},{"p":3,"c":"i","t":5,"x":698,"y":-13.1},{"p":3,"c":"i","t":5,"x":744.7,"y":-8.8},{"p":3,"c":"i","t":5,"x":771.3,"y":-13.1},{"p":3,"c":"i","t":5,"x":808,"y":-11.1},{"p":3,"c":"i","t":5,"x":858,"y":-8.4},{"p":3,"c":"i","t":5,"x":938,"y":-6.3},
{"p":3,"c":"j","t":4,"x":88,"y":-45.2},{"p":3,"c":"j","t":4,"x":98,"y":-39.1},{"p":3,"c":"j","t":4,"x":121.3,"y":-36.4},{"p":3,"c":"j","t":4,"x":133,"y":-36},{"p":3,"c":"j","t":4,"x":144.7,"y":-36},{"p":3,"c":"j","t":4,"x":164.7,"y":-32.4},{"p":3,"c":"j","t":4,"x":184.7,"y":-31.5},{"p":3,"c":"j","t":4,"x":198,"y":-35},{"p":3,"c":"j","t":4,"x":211.3,"y":-41.2},{"p":3,"c":"j","t":4,"x":231.3,"y":-38.1},{"p":3,"c":"j","t":4,"x":264.7,"y":-34},{"p":3,"c":"j","t":4,"x":286.3,"y":-28.9},{"p":3,"c":"j","t":4,"x":298,"y":-26.4},{"p":3,"c":"j","t":4,"x":324.7,"y":-30.9},{"p":3,"c":"j","t":4,"x":364.7,"y":-31.9},{"p":3,"c":"j","t":4,"x":431.3,"y":-31.5},{"p":3,"c":"j","t":4,"x":448,"y":-31.5},{"p":3,"c":"j","t":4,"x":478,"y":-30.3},{"p":3,"c":"j","t":4,"x":491.3,"y":-28.9},{"p":3,"c":"j","t":4,"x":518,"y":-26.2},{"p":3,"c":"j","t":4,"x":544.7,"y":-28.3},{"p":3,"c":"j","t":4,"x":584.7,"y":-30.3},{"p":3,"c":"j","t":4,"x":601.3,"y":-24.2},{"p":3,"c":"j","t":4,"x":614.7,"y":-20.7},{"p":3,"c":"j","t":4,"x":644.7,"y":-19.2},{"p":3,"c":"j","t":4,"x":691.3,"y":-17.6},{"p":3,"c":"j","t":4,"x":744.7,"y":-15.2},{"p":3,"c":"j","t":4,"x":774.7,"y":-16.6},{"p":3,"c":"j","t":4,"x":808,"y":-17.2},{"p":3,"c":"j","t":4,"x":858,"y":-16.6},{"p":3,"c":"j","t":4,"x":938,"y":-15.6},
{"p":3,"c":"k","t":3,"x":231.3,"y":-47.3},{"p":3,"c":"k","t":3,"x":264.7,"y":-48.3},{"p":3,"c":"k","t":3,"x":291.3,"y":-47.3},{"p":3,"c":"k","t":3,"x":304.7,"y":-50.4},{"p":3,"c":"k","t":3,"x":324.7,"y":-43.2},{"p":3,"c":"k","t":3,"x":364.7,"y":-41.8},{"p":3,"c":"k","t":3,"x":391.3,"y":-41.2},{"p":3,"c":"k","t":3,"x":414.7,"y":-40.5},{"p":3,"c":"k","t":3,"x":458,"y":-40.1},{"p":3,"c":"k","t":3,"x":508,"y":-40.5},{"p":3,"c":"k","t":3,"x":538,"y":-38.1},{"p":3,"c":"k","t":3,"x":554.7,"y":-38.5},{"p":3,"c":"k","t":3,"x":571.3,"y":-37.7},{"p":3,"c":"k","t":3,"x":586.3,"y":-42.2},{"p":3,"c":"k","t":3,"x":593,"y":-48.3},{"p":3,"c":"k","t":3,"x":614.7,"y":-48.7},{"p":3,"c":"k","t":3,"x":621.3,"y":-38.1},{"p":3,"c":"k","t":3,"x":631.3,"y":-33},{"p":3,"c":"k","t":3,"x":658,"y":-29.5},{"p":3,"c":"k","t":3,"x":688,"y":-26.8},{"p":3,"c":"k","t":3,"x":711.3,"y":-25.8},{"p":3,"c":"k","t":3,"x":744.7,"y":-23.3},{"p":3,"c":"k","t":3,"x":784.7,"y":-28.3},{"p":3,"c":"k","t":3,"x":808,"y":-25.4},{"p":3,"c":"k","t":3,"x":841.3,"y":-21.3},{"p":3,"c":"k","t":3,"x":864.7,"y":-20.1},{"p":3,"c":"k","t":3,"x":938,"y":-18.6},
{"p":3,"c":"l","t":3,"x":631.3,"y":-58.6},{"p":3,"c":"l","t":3,"x":608,"y":-58.6},{"p":3,"c":"l","t":3,"x":588,"y":-57.7},{"p":3,"c":"l","t":3,"x":608,"y":-56.5},{"p":3,"c":"l","t":3,"x":631.3,"y":-56.9},{"p":3,"c":"l","t":3,"x":641.3,"y":-55.5},{"p":3,"c":"l","t":3,"x":646.3,"y":-52},{"p":3,"c":"l","t":3,"x":658,"y":-48.3},{"p":3,"c":"l","t":3,"x":691.3,"y":-42.2},{"p":3,"c":"l","t":3,"x":741.3,"y":-33},{"p":3,"c":"l","t":3,"x":774.7,"y":-38.1},{"p":3,"c":"l","t":3,"x":808,"y":-47.3},{"p":3,"c":"l","t":3,"x":858,"y":-44.2},{"p":3,"c":"l","t":3,"x":908,"y":-33},{"p":3,"c":"l","t":3,"x":938,"y":-28.9},
{"p":3,"c":"m","t":3,"x":501.3,"y":-53.4},{"p":3,"c":"m","t":3,"x":516.3,"y":-50.8},{"p":3,"c":"m","t":3,"x":531.3,"y":-53.4},{"p":3,"c":"m","t":3,"x":521.3,"y":-57.5},{"p":3,"c":"m","t":3,"x":511.3,"y":-57.9},{"p":3,"c":"m","t":3,"x":501.3,"y":-53.4},
{"p":3,"c":"n","t":4,"x":171.3,"y":-38.1},{"p":3,"c":"n","t":4,"x":183,"y":-38.1},
{"p":3,"c":"o","t":3,"x":251.3,"y":-56.9},{"p":3,"c":"o","t":3,"x":281.3,"y":-59.6},{"p":3,"c":"o","t":3,"x":304.7,"y":-64.7},{"p":3,"c":"o","t":3,"x":324.7,"y":-61.6},{"p":3,"c":"o","t":3,"x":348,"y":-58.6},
{"p":3,"c":"p","t":3,"x":361.3,"y":-58.6},{"p":3,"c":"p","t":3,"x":393,"y":-59.6},{"p":3,"c":"p","t":3,"x":414.7,"y":-61},{"p":3,"c":"p","t":3,"x":458,"y":-62.7},{"p":3,"c":"p","t":3,"x":491.3,"y":-63.7},{"p":3,"c":"p","t":3,"x":524.7,"y":-65.1},{"p":3,"c":"p","t":3,"x":548,"y":-67.2},{"p":3,"c":"p","t":3,"x":554.7,"y":-68.4},{"p":3,"c":"p","t":3,"x":568,"y":-67.8},{"p":3,"c":"p","t":3,"x":608,"y":-65.7},{"p":3,"c":"p","t":3,"x":658,"y":-63.7},{"p":3,"c":"p","t":3,"x":691.3,"y":-62.5},{"p":3,"c":"p","t":3,"x":709.7,"y":-63.7},{"p":3,"c":"p","t":3,"x":724.7,"y":-61.6},{"p":3,"c":"p","t":3,"x":758,"y":-59.6},{"p":3,"c":"p","t":3,"x":791.3,"y":-59.8},{"p":3,"c":"p","t":3,"x":824.7,"y":-60.2},{"p":3,"c":"p","t":3,"x":858,"y":-61.6},{"p":3,"c":"p","t":3,"x":891.3,"y":-61.2},{"p":3,"c":"p","t":3,"x":938,"y":-60.6},
{"p":3,"c":"q","t":4,"x":251.3,"y":-64.7},{"p":3,"c":"q","t":4,"x":264.7,"y":-65.7},{"p":3,"c":"q","t":4,"x":278,"y":-66.7},{"p":3,"c":"q","t":4,"x":298,"y":-70.8},{"p":3,"c":"q","t":4,"x":318,"y":-69.8},{"p":3,"c":"q","t":4,"x":341.3,"y":-68.8},
{"p":3,"c":"s","t":4,"x":458,"y":-66.4},{"p":3,"c":"s","t":4,"x":491.3,"y":-67.2},{"p":3,"c":"s","t":4,"x":524.7,"y":-68.4},{"p":3,"c":"s","t":4,"x":554.7,"y":-70},{"p":3,"c":"s","t":4,"x":586.3,"y":-70.8},{"p":3,"c":"s","t":4,"x":608,"y":-70.2},{"p":3,"c":"s","t":4,"x":658,"y":-68.6},{"p":3,"c":"s","t":4,"x":708,"y":-67.2},{"p":3,"c":"s","t":4,"x":746.3,"y":-68.8},{"p":3,"c":"s","t":4,"x":774.7,"y":-68.2},{"p":3,"c":"s","t":4,"x":808,"y":-67.6},{"p":3,"c":"s","t":4,"x":841.3,"y":-69.4},{"p":3,"c":"s","t":4,"x":858,"y":-71.8},{"p":3,"c":"s","t":4,"x":871.3,"y":-69.8},{"p":3,"c":"s","t":4,"x":891.3,"y":-67.6},{"p":3,"c":"s","t":4,"x":938,"y":-65.1},
{"p":3,"c":"r","t":4,"x":361.3,"y":-64.7},{"p":3,"c":"r","t":4,"x":398,"y":-65.1},{"p":3,"c":"r","t":4,"x":418,"y":-66.3},{"p":3,"c":"r","t":4,"x":431.3,"y":-67.5},{"p":3,"c":"r","t":4,"x":444.7,"y":-69.2},{"p":3,"c":"r","t":4,"x":478,"y":-70.5},{"p":3,"c":"r","t":4,"x":508,"y":-71.8},{"p":3,"c":"r","t":4,"x":558,"y":-73},{"p":3,"c":"r","t":4,"x":608,"y":-72.5},{"p":3,"c":"r","t":4,"x":658,"y":-71.2},{"p":3,"c":"r","t":4,"x":708,"y":-70},{"p":3,"c":"r","t":4,"x":758,"y":-70.6},{"p":3,"c":"r","t":4,"x":808,"y":-70.8},{"p":3,"c":"r","t":4,"x":841.3,"y":-72},{"p":3,"c":"r","t":4,"x":874.7,"y":-74.5},{"p":3,"c":"r","t":4,"x":908,"y":-73.5},{"p":3,"c":"r","t":4,"x":938,"y":-71.5},
{"p":3,"c":"t","t":5,"x":253,"y":-70.8},{"p":3,"c":"t","t":5,"x":264.7,"y":-70.8},{"p":3,"c":"t","t":5,"x":278,"y":-74.9},{"p":3,"c":"t","t":5,"x":298,"y":-76.6},{"p":3,"c":"t","t":5,"x":318,"y":-74.9},{"p":3,"c":"t","t":5,"x":331.3,"y":-70.8},{"p":3,"c":"t","t":5,"x":341.3,"y":-69.2},
{"p":3,"c":"u","t":5,"x":374.7,"y":-70.4},{"p":3,"c":"u","t":5,"x":398,"y":-71.3},{"p":3,"c":"u","t":5,"x":418,"y":-72.9},{"p":3,"c":"u","t":5,"x":431.3,"y":-77},{"p":3,"c":"u","t":5,"x":441.3,"y":-74.9},
{"p":3,"c":"v","t":5,"x":498,"y":-80.1},{"p":3,"c":"v","t":5,"x":511.3,"y":-76},{"p":3,"c":"v","t":5,"x":558,"y":-76},{"p":3,"c":"v","t":5,"x":586.3,"y":-77.5},{"p":3,"c":"v","t":5,"x":608,"y":-76.8},{"p":3,"c":"v","t":5,"x":658,"y":-74.9},{"p":3,"c":"v","t":5,"x":691.3,"y":-72.5},{"p":3,"c":"v","t":5,"x":724.7,"y":-73.5},{"p":3,"c":"v","t":5,"x":748,"y":-77},{"p":3,"c":"v","t":5,"x":774.7,"y":-75.3},{"p":3,"c":"v","t":5,"x":824.7,"y":-74.5},{"p":3,"c":"v","t":5,"x":858,"y":-78},{"p":3,"c":"v","t":5,"x":891.3,"y":-79},{"p":3,"c":"v","t":5,"x":938,"y":-76.5},
{"p":3,"c":"w","t":6,"x":258,"y":-79},{"p":3,"c":"w","t":6,"x":281.3,"y":-82.1},{"p":3,"c":"w","t":6,"x":304.7,"y":-83.5},{"p":3,"c":"w","t":6,"x":328,"y":-81.5},
{"p":3,"c":"x","t":6,"x":558,"y":-107.7},{"p":3,"c":"x","t":6,"x":564.7,"y":-99.5},{"p":3,"c":"x","t":6,"x":574.7,"y":-96.4},{"p":3,"c":"x","t":6,"x":608,"y":-99.5},{"p":3,"c":"x","t":6,"x":658,"y":-101.6},{"p":3,"c":"x","t":6,"x":684.7,"y":-106.7},{"p":3,"c":"x","t":6,"x":691.3,"y":-107.7},{"p":3,"c":"x","t":6,"x":708,"y":-106.7},{"p":3,"c":"x","t":6,"x":741.3,"y":-107.7},{"p":3,"c":"x","t":6,"x":781.3,"y":-109.7},{"p":3,"c":"x","t":6,"x":808,"y":-104.6},{"p":3,"c":"x","t":6,"x":824.7,"y":-101.6},{"p":3,"c":"x","t":6,"x":843,"y":-104.6},{"p":3,"c":"x","t":6,"x":858,"y":-105.7},{"p":3,"c":"x","t":6,"x":891.3,"y":-109.3},{"p":3,"c":"x","t":6,"x":914.7,"y":-112.8}
],
"lab": [
{"p":1,"s":"2","x":239.7,"y":-32.7},{"p":1,"s":"2","x":351.3,"y":-29.7},{"p":1,"s":"2","x":477,"y":-48.3},{"p":1,"s":"2","x":608,"y":-35.8},
{"p":1,"s":"3","x":311.3,"y":-57.3},{"p":1,"s":"3","x":469.7,"y":-61.2},{"p":1,"s":"3","x":631.3,"y":-55.3},
{"p":1,"s":"5","x":226.3,"y":-68.6},{"p":1,"s":"5","x":391.3,"y":-68.6},{"p":1,"s":"5","x":549.7,"y":-71.3},{"p":1,"s":"5","x":708,"y":-63.5},
{"p":1,"s":"6","x":294.7,"y":-65.5},{"p":1,"s":"6","x":453,"y":-74.7},{"p":1,"s":"6","x":611.3,"y":-93.2},
{"p":2,"s":"1","x":77,"y":-41},{"p":2,"s":"1","x":214.7,"y":-45},{"p":2,"s":"1","x":653,"y":-30.7},{"p":2,"s":"1","x":766.3,"y":-57.3},
{"p":2,"s":"3","x":516.3,"y":-62.5},{"p":2,"s":"3","x":669.7,"y":-61.4},{"p":2,"s":"3","x":833,"y":-66.5},
{"p":2,"s":"5","x":256.3,"y":-66.5},{"p":2,"s":"5","x":413,"y":-71},{"p":2,"s":"5","x":574.7,"y":-75.8},{"p":2,"s":"5","x":728,"y":-73.7},{"p":2,"s":"5","x":891.3,"y":-78.8},
{"p":2,"s":"6","x":298,"y":-66.5},{"p":2,"s":"6","x":571.3,"y":-101.4},{"p":2,"s":"6","x":723,"y":-101.4},{"p":2,"s":"6","x":879.7,"y":-103.4},
{"p":3,"s":"6","x":94.7,"y":-24.8},{"p":3,"s":"6","x":691.3,"y":-107.7},{"p":3,"s":"6","x":843,"y":-104.6},
{"p":3,"s":"5","x":66.3,"y":-36},{"p":3,"s":"5","x":208,"y":-21.3},{"p":3,"s":"5","x":361.3,"y":-21.3},{"p":3,"s":"5","x":278,"y":-77.5},{"p":3,"s":"5","x":431.3,"y":-78.5},{"p":3,"s":"5","x":586.3,"y":-79.5},{"p":3,"s":"5","x":748,"y":-79},
{"p":3,"s":"4","x":133,"y":-36},{"p":3,"s":"4","x":286.3,"y":-28.9},{"p":3,"s":"4","x":448,"y":-31.5},{"p":3,"s":"4","x":601.3,"y":-24.2},{"p":3,"s":"4","x":278,"y":-65},{"p":3,"s":"4","x":431.3,"y":-65.5},{"p":3,"s":"4","x":586.3,"y":-67},{"p":3,"s":"4","x":746.3,"y":-66.5},
{"p":3,"s":"3","x":391.3,"y":-41.2},{"p":3,"s":"3","x":554.7,"y":-38.5},{"p":3,"s":"3","x":688,"y":-26.8},{"p":3,"s":"3","x":841.3,"y":-21.3},{"p":3,"s":"3","x":393,"y":-59.6},{"p":3,"s":"3","x":550,"y":-66.8},{"p":3,"s":"3","x":709.7,"y":-62.6},{"p":3,"s":"3","x":871.3,"y":-69.8}
],
"st": [
{"p":1,"s":"002","x":1.3,"y":0},{"p":1,"s":"001","x":19.7,"y":0},{"p":1,"s":"030","x":27.3,"y":0},{"p":1,"s":"115","x":49.7,"y":0},{"p":1,"s":"114","x":68.7,"y":0},{"p":1,"s":"113","x":88,"y":0},{"p":1,"s":"105","x":104,"y":0},{"p":1,"s":"104","x":120.7,"y":0},{"p":1,"s":"102","x":136.3,"y":0},{"p":1,"s":"145","x":160.3,"y":0},{"p":1,"s":"144","x":181.3,"y":0},{"p":1,"s":"140","x":215.3,"y":0},{"p":1,"s":"200","x":263,"y":0},{"p":1,"s":"212","x":300.3,"y":0},{"p":1,"s":"213","x":315.3,"y":0},{"p":1,"s":"221","x":329.7,"y":0},{"p":1,"s":"222","x":398,"y":0},{"p":1,"s":"259","x":508,"y":0},{"p":1,"s":"255","x":527,"y":0},{"p":1,"s":"253","x":560.7,"y":0},{"p":1,"s":"263","x":638,"y":0},{"p":1,"s":"271","x":774,"y":0},
{"p":2,"s":"002","x":2,"y":0},{"p":2,"s":"001","x":19.7,"y":0},{"p":2,"s":"030","x":28.7,"y":0},{"p":2,"s":"115","x":50.3,"y":0},{"p":2,"s":"114","x":68.7,"y":0},{"p":2,"s":"113","x":87.3,"y":0},{"p":2,"s":"105","x":103.7,"y":0},{"p":2,"s":"104","x":120.3,"y":0},{"p":2,"s":"102","x":134.7,"y":0},{"p":2,"s":"145","x":158,"y":0},{"p":2,"s":"144","x":179.7,"y":0},{"p":2,"s":"140","x":212.3,"y":0},{"p":2,"s":"200","x":259.7,"y":0},{"p":2,"s":"211","x":282,"y":0},{"p":2,"s":"212","x":296.3,"y":0},{"p":2,"s":"213","x":311.3,"y":0},{"p":2,"s":"221","x":326.3,"y":0},{"p":2,"s":"222","x":394,"y":0},{"p":2,"s":"256","x":482,"y":0},{"p":2,"s":"259","x":514,"y":0},{"p":2,"s":"253","x":565.3,"y":0},{"p":2,"s":"250","x":593.7,"y":0},{"p":2,"s":"263","x":641.7,"y":0},{"p":2,"s":"260","x":683,"y":0},{"p":2,"s":"272","x":743,"y":0},{"p":2,"s":"271","x":778.7,"y":0},{"p":2,"s":"270","x":818.7,"y":0},{"p":2,"s":"286","x":873,"y":0},{"p":2,"s":"285","x":938,"y":0},
{"p":3,"s":"002","x":2,"y":0},{"p":3,"s":"001","x":19.7,"y":0},{"p":3,"s":"030","x":28.7,"y":0},{"p":3,"s":"115","x":50.3,"y":0},{"p":3,"s":"114","x":68.7,"y":0},{"p":3,"s":"113","x":87.3,"y":0},{"p":3,"s":"105","x":103.7,"y":0},{"p":3,"s":"104","x":120.3,"y":0},{"p":3,"s":"102","x":134.7,"y":0},{"p":3,"s":"145","x":158.7,"y":0},{"p":3,"s":"144","x":179.7,"y":0},{"p":3,"s":"140","x":213,"y":0},{"p":3,"s":"200","x":261.3,"y":0},{"p":3,"s":"212","x":297,"y":0},{"p":3,"s":"213","x":311.3,"y":0},{"p":3,"s":"221","x":326.3,"y":0},{"p":3,"s":"222","x":394,"y":0},{"p":3,"s":"256","x":483,"y":0},{"p":3,"s":"259","x":514.7,"y":0},{"p":3,"s":"253","x":565.3,"y":0},{"p":3,"s":"250","x":604,"y":0},{"p":3,"s":"263","x":642.3,"y":0},{"p":3,"s":"260","x":683,"y":0},{"p":3,"s":"272","x":743,"y":0},{"p":3,"s":"271","x":779,"y":0},{"p":3,"s":"270","x":818.7,"y":0},{"p":3,"s":"286","x":872.3,"y":0},{"p":3,"s":"285","x":938,"y":0}
],
"pl": [
{"p":1,"s":"Darss\nSill","x":28,"y":-39.9},{"p":1,"s":"Arkona\nBasin","x":128,"y":-61.4},{"p":1,"s":"Bornholm\nBasin","x":288,"y":-107.5},{"p":1,"s":"Stolpe\nChannel","x":410.5,"y":-97.3},{"p":1,"s":"Gotland\nDeep","x":711,"y":-210},
{"p":2,"s":"Darss\nSill","x":31.3,"y":-37.9},{"p":2,"s":"Arkona\nBasin","x":131.3,"y":-60.4},{"p":2,"s":"Bornholm\nBasin","x":291.3,"y":-105.4},{"p":2,"s":"Stolpe\nChannel","x":413,"y":-95.2},{"p":2,"s":"Gotland\nDeep","x":688,"y":-222.4},
{"p":3,"s":"Darss\nSill","x":31.3,"y":-38.1},{"p":3,"s":"Arkona\nBasin","x":131.3,"y":-60.2},{"p":3,"s":"Bornholm\nBasin","x":291.3,"y":-106},{"p":3,"s":"Stolpe\nChannel","x":413,"y":-95.4},{"p":3,"s":"Gotland\nDeep","x":688,"y":-220}
],
"ttl": [
{"p":1,"s":"Temperature / (°C)\u00a0\u00a0\u00a0\u00a003.02.-12.02.2011","x":74.7,"y":-223},
{"p":2,"s":"Temperature / (°C)\u00a0\u00a0\u00a0\u00a024.03.-31.03.2011","x":155,"y":-234.6},
{"p":3,"s":"Temperature / (°C)\u00a0\u00a0\u00a0\u00a011.05.-15.05.2011","x":155,"y":-233}
]
},
"vconcat": [
{
"width": 775, "height": 407,
"encoding": {
"x": {"field": "x", "type": "quantitative", "scale": {"domain": [0, 775], "nice": false, "zero": false}, "axis": {"labels": false, "ticks": false, "title": null, "grid": false, "domainWidth": 2, "domainColor": "#000"}},
"y": {"field": "y", "type": "quantitative", "scale": {"domain": [-250, 0], "nice": false, "zero": false}, "axis": {"values": [-250,-240,-230,-220,-210,-200,-190,-180,-170,-160,-150,-140,-130,-120,-110,-100,-90,-80,-70,-60,-50,-40,-30,-20,-10], "labelExpr": "datum.value % 20 == 0 ? '' : '' + datum.value", "title": "Depth [m]", "grid": false, "tickSize": 5, "tickColor": "#000", "domainColor": "#000", "domainWidth": 2, "labelFontSize": 16, "labelColor": "#000", "labelPadding": 2, "labelOverlap": false, "labelFlush": false, "titleFontSize": 18, "titleFontWeight": "normal", "titleColor": "#000", "titleX": -64, "titleY": 152, "titleAngle": 270, "titleAlign": "center", "titleBaseline": "middle"}}
},
"layer": [
{"data": {"name": "bathy"}, "transform": [{"filter": "datum.p == 1"}], "mark": {"type": "line", "color": "#000", "strokeWidth": 1}, "encoding": {"order": {"value": null}}},
{"data": {"name": "iso"}, "transform": [{"filter": "datum.p == 1"}], "mark": {"type": "line", "color": "#000", "strokeWidth": 1}, "encoding": {"detail": {"field": "c"}, "order": {"value": null}, "strokeDash": {"field": "t", "type": "ordinal", "scale": {"domain": [1,2,3,4,5,6,7,8], "range": [[1,0],[1,0],[1,0],[1,0],[7,4],[1,0],[1,0],[1,0]]}, "legend": null}}},
{"data": {"name": "lab"}, "transform": [{"filter": "datum.p == 1"}], "mark": {"type": "point", "shape": "square", "filled": true, "color": "#fff", "opacity": 1, "size": 150}},
{"data": {"name": "lab"}, "transform": [{"filter": "datum.p == 1"}], "mark": {"type": "text", "fontSize": 21, "fontWeight": "bold", "fill": "#000"}, "encoding": {"text": {"field": "s"}}},
{"data": {"name": "st"}, "transform": [{"filter": "datum.p == 1"}], "mark": {"type": "point", "shape": "triangle-up", "filled": true, "color": "#000", "size": 160, "opacity": 1}},
{"data": {"name": "st"}, "transform": [{"filter": "datum.p == 1"}], "mark": {"type": "text", "angle": 270, "align": "left", "baseline": "middle", "dx": 8, "fontSize": 16, "fill": "#000"}, "encoding": {"text": {"field": "s"}}},
{"data": {"name": "pl"}, "transform": [{"filter": "datum.p == 1"}], "mark": {"type": "text", "fontSize": 18, "lineBreak": "\n", "lineHeight": 21, "fill": "#000"}, "encoding": {"text": {"field": "s"}}},
{"data": {"name": "ttl"}, "transform": [{"filter": "datum.p == 1"}], "mark": {"type": "text", "fontSize": 18, "align": "left", "fill": "#000"}, "encoding": {"text": {"field": "s"}}}
]
},
{
"width": 938, "height": 407,
"encoding": {
"x": {"field": "x", "type": "quantitative", "scale": {"domain": [0, 938], "nice": false, "zero": false}, "axis": {"labels": false, "ticks": false, "title": null, "grid": false, "domainWidth": 2, "domainColor": "#000"}},
"y": {"field": "y", "type": "quantitative", "scale": {"domain": [-250, 0], "nice": false, "zero": false}, "axis": {"values": [-250,-240,-230,-220,-210,-200,-190,-180,-170,-160,-150,-140,-130,-120,-110,-100,-90,-80,-70,-60,-50,-40,-30,-20,-10], "labelExpr": "datum.value % 20 == 0 ? '' : '' + datum.value", "title": "Depth [m]", "grid": false, "tickSize": 5, "tickColor": "#000", "domainColor": "#000", "domainWidth": 2, "labelFontSize": 16, "labelColor": "#000", "labelPadding": 2, "labelOverlap": false, "labelFlush": false, "titleFontSize": 18, "titleFontWeight": "normal", "titleColor": "#000", "titleX": -64, "titleY": 152, "titleAngle": 270, "titleAlign": "center", "titleBaseline": "middle"}}
},
"layer": [
{"data": {"name": "bathy"}, "transform": [{"filter": "datum.p == 2"}], "mark": {"type": "line", "color": "#000", "strokeWidth": 1}, "encoding": {"order": {"value": null}}},
{"data": {"name": "iso"}, "transform": [{"filter": "datum.p == 2"}], "mark": {"type": "line", "color": "#000", "strokeWidth": 1}, "encoding": {"detail": {"field": "c"}, "order": {"value": null}, "strokeDash": {"field": "t", "type": "ordinal", "scale": {"domain": [1,2,3,4,5,6,7,8], "range": [[1,0],[1,0],[1,0],[1,0],[7,4],[1,0],[1,0],[1,0]]}, "legend": null}}},
{"data": {"name": "lab"}, "transform": [{"filter": "datum.p == 2"}], "mark": {"type": "point", "shape": "square", "filled": true, "color": "#fff", "opacity": 1, "size": 150}},
{"data": {"name": "lab"}, "transform": [{"filter": "datum.p == 2"}], "mark": {"type": "text", "fontSize": 21, "fontWeight": "bold", "fill": "#000"}, "encoding": {"text": {"field": "s"}}},
{"data": {"name": "st"}, "transform": [{"filter": "datum.p == 2"}], "mark": {"type": "point", "shape": "triangle-up", "filled": true, "color": "#000", "size": 160, "opacity": 1}},
{"data": {"name": "st"}, "transform": [{"filter": "datum.p == 2"}], "mark": {"type": "text", "angle": 270, "align": "left", "baseline": "middle", "dx": 8, "fontSize": 16, "fill": "#000"}, "encoding": {"text": {"field": "s"}}},
{"data": {"name": "pl"}, "transform": [{"filter": "datum.p == 2"}], "mark": {"type": "text", "fontSize": 18, "lineBreak": "\n", "lineHeight": 21, "fill": "#000"}, "encoding": {"text": {"field": "s"}}},
{"data": {"name": "ttl"}, "transform": [{"filter": "datum.p == 2"}], "mark": {"type": "text", "fontSize": 18, "align": "left", "fill": "#000"}, "encoding": {"text": {"field": "s"}}}
]
},
{
"width": 938, "height": 407,
"encoding": {
"x": {"field": "x", "type": "quantitative", "scale": {"domain": [0, 938], "nice": false, "zero": false}, "axis": {"labels": false, "ticks": false, "title": null, "grid": false, "domainWidth": 2, "domainColor": "#000"}},
"y": {"field": "y", "type": "quantitative", "scale": {"domain": [-250, 0], "nice": false, "zero": false}, "axis": {"values": [-250,-240,-230,-220,-210,-200,-190,-180,-170,-160,-150,-140,-130,-120,-110,-100,-90,-80,-70,-60,-50,-40,-30,-20,-10], "labelExpr": "datum.value % 20 == 0 ? '' : '' + datum.value", "title": "Depth [m]", "grid": false, "tickSize": 5, "tickColor": "#000", "domainColor": "#000", "domainWidth": 2, "labelFontSize": 16, "labelColor": "#000", "labelPadding": 2, "labelOverlap": false, "labelFlush": false, "titleFontSize": 18, "titleFontWeight": "normal", "titleColor": "#000", "titleX": -64, "titleY": 152, "titleAngle": 270, "titleAlign": "center", "titleBaseline": "middle"}}
},
"layer": [
{"data": {"name": "bathy"}, "transform": [{"filter": "datum.p == 2"}], "mark": {"type": "line", "color": "#000", "strokeWidth": 1}, "encoding": {"order": {"value": null}}},
{"data": {"name": "iso"}, "transform": [{"filter": "datum.p == 3"}], "mark": {"type": "line", "color": "#000", "strokeWidth": 1}, "encoding": {"detail": {"field": "c"}, "order": {"value": null}, "strokeDash": {"field": "t", "type": "ordinal", "scale": {"domain": [1,2,3,4,5,6,7,8], "range": [[1,0],[1,0],[1,0],[1,0],[7,4],[1,0],[1,0],[1,0]]}, "legend": null}}},
{"data": {"name": "lab"}, "transform": [{"filter": "datum.p == 3"}], "mark": {"type": "point", "shape": "square", "filled": true, "color": "#fff", "opacity": 1, "size": 150}},
{"data": {"name": "lab"}, "transform": [{"filter": "datum.p == 3"}], "mark": {"type": "text", "fontSize": 21, "fontWeight": "bold", "fill": "#000"}, "encoding": {"text": {"field": "s"}}},
{"data": {"name": "st"}, "transform": [{"filter": "datum.p == 3"}], "mark": {"type": "point", "shape": "triangle-up", "filled": true, "color": "#000", "size": 160, "opacity": 1}},
{"data": {"name": "st"}, "transform": [{"filter": "datum.p == 3"}], "mark": {"type": "text", "angle": 270, "align": "left", "baseline": "middle", "dx": 8, "fontSize": 16, "fill": "#000"}, "encoding": {"text": {"field": "s"}}},
{"data": {"name": "pl"}, "transform": [{"filter": "datum.p == 3"}], "mark": {"type": "text", "fontSize": 18, "lineBreak": "\n", "lineHeight": 21, "fill": "#000"}, "encoding": {"text": {"field": "s"}}},
{"data": {"name": "ttl"}, "transform": [{"filter": "datum.p == 3"}], "mark": {"type": "text", "fontSize": 18, "align": "left", "fill": "#000"}, "encoding": {"text": {"field": "s"}}}
]
}
]
}
